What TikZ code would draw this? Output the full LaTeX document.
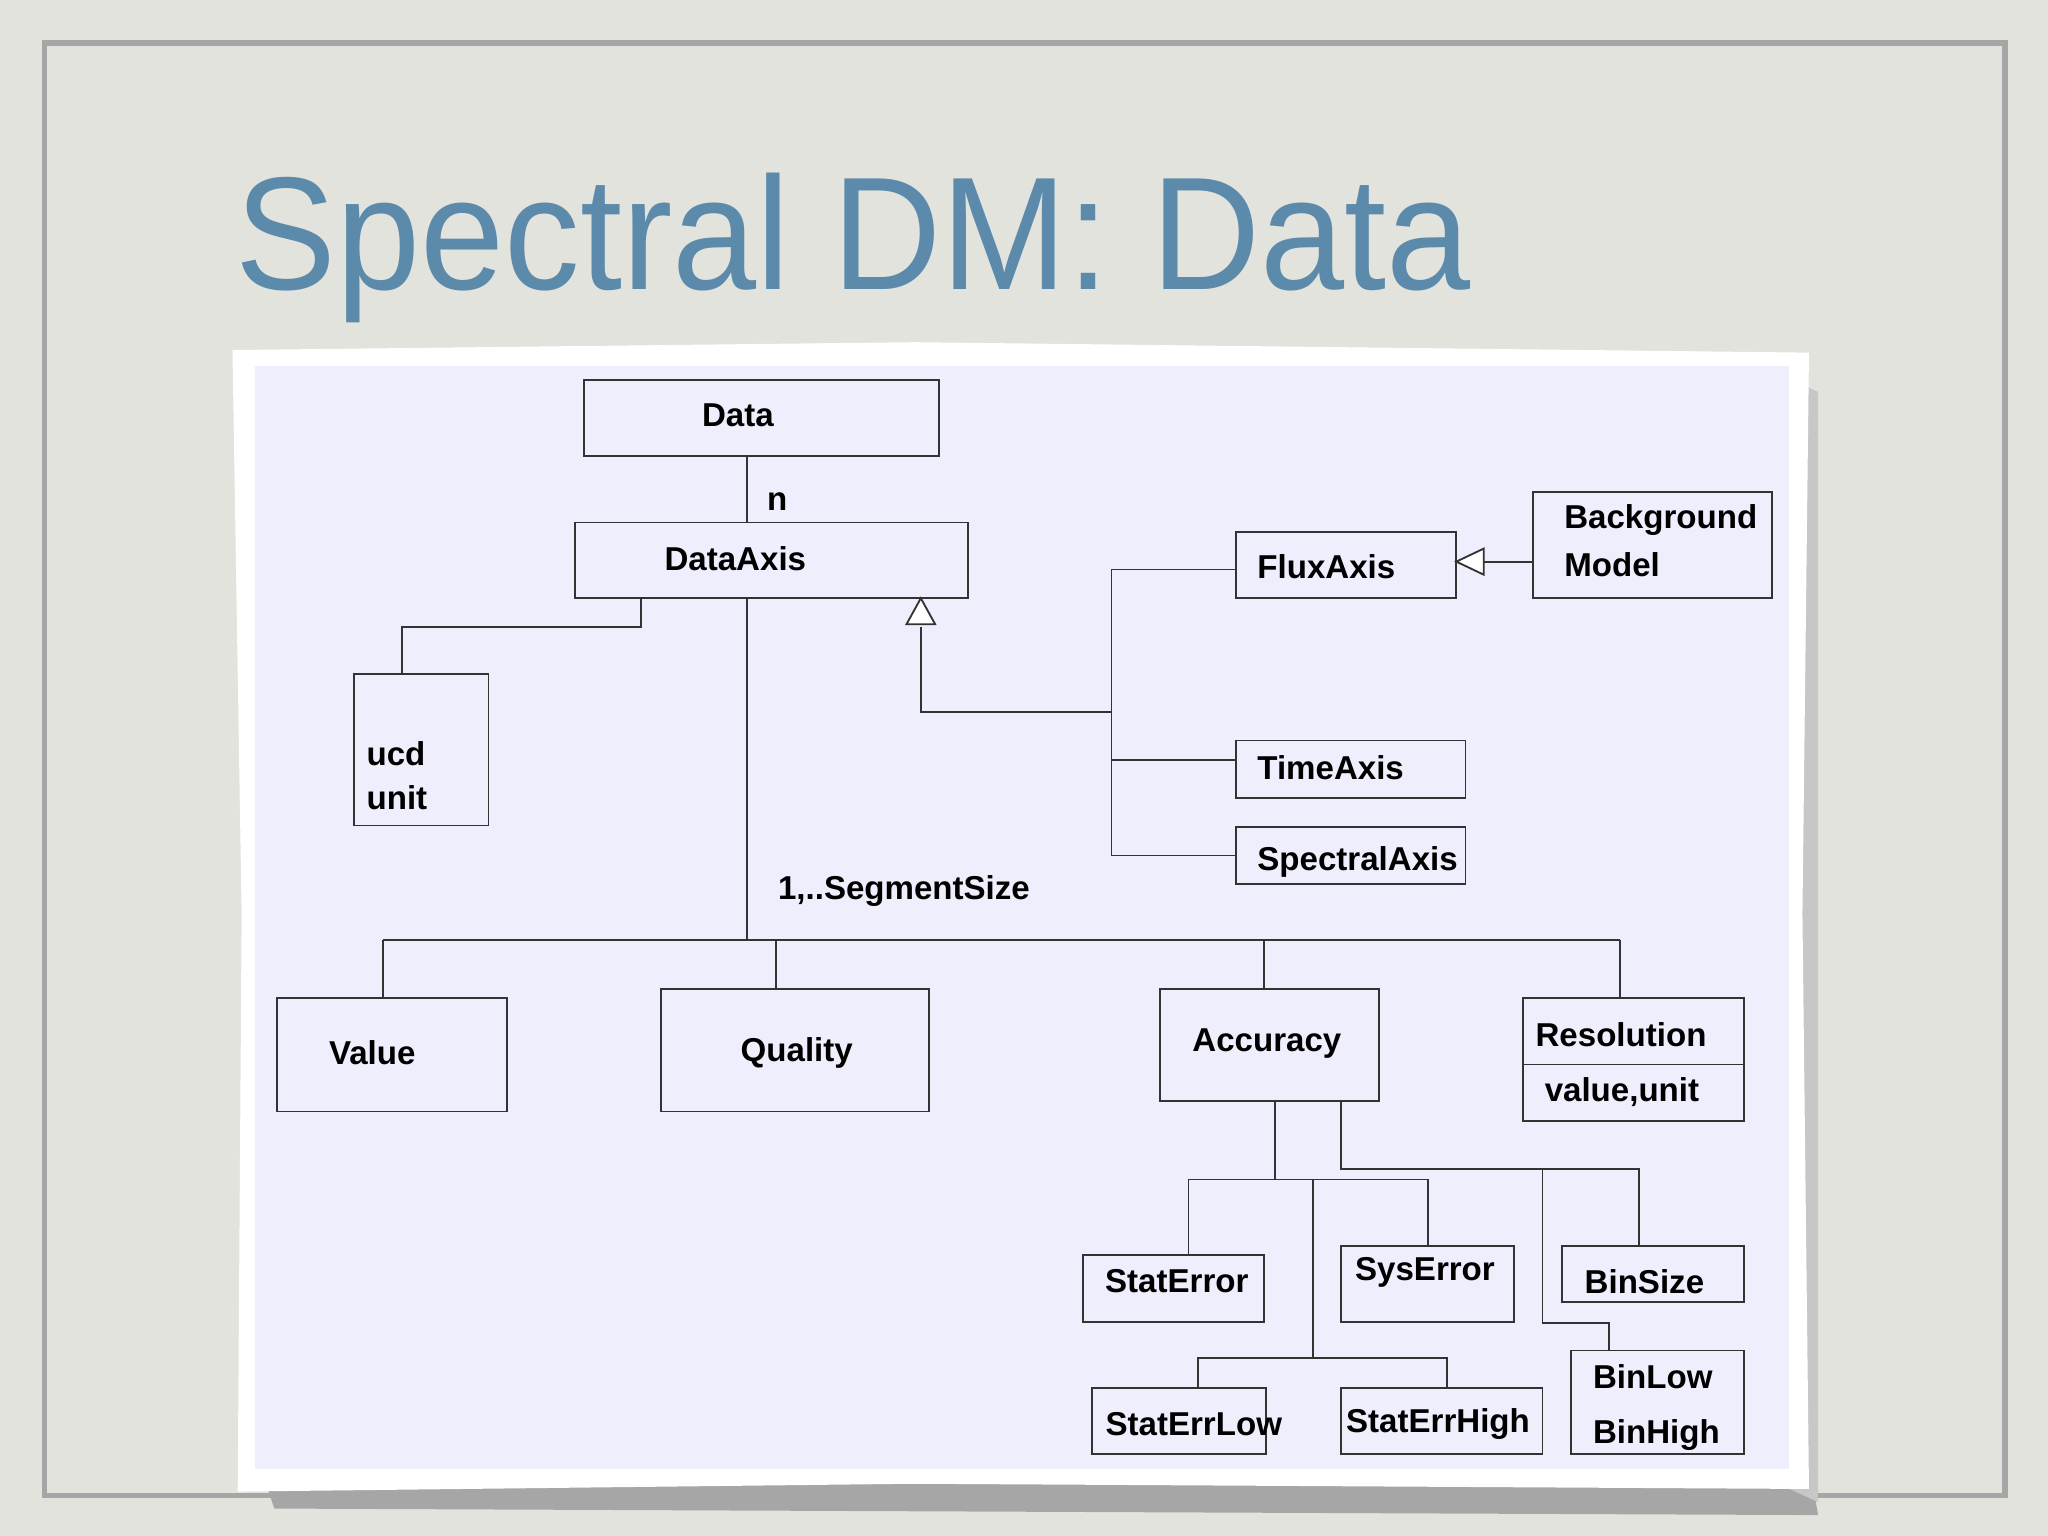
\documentclass[tikz,border=0pt]{standalone}
\usepackage{fontspec}
\setmainfont{Liberation Sans}
\usetikzlibrary{arrows.meta}
\definecolor{bg}{HTML}{E3E3DD}
\definecolor{lav}{HTML}{EEEEFC}
\definecolor{ttl}{HTML}{5B8AAA}
\tikzset{
 box/.style={draw=black!80,line width=0.4pt},
 lbl/.style={font=\bfseries\fontsize{7.2}{8}\selectfont,inner sep=0pt},
 ln/.style={draw=black!80,line width=0.4pt}
}
\newcommand\bx[5]{\pgfmathsetmacro\cx{(#2+#4)/2}\pgfmathsetmacro\cy{(#3+#5)/2}%
 \pgfmathsetmacro\ww{(#4-#2)*0.01}\pgfmathsetmacro\hh{(#5-#3)*0.01}%
 \node[box,inner sep=0pt,minimum width=\ww cm,minimum height=\hh cm] (#1) at (\cx,\cy) {};}
\begin{document}
\begin{tikzpicture}[x=0.01cm,y=-0.01cm]
\fill[bg] (0,0) rectangle (1568,1176);
\useasboundingbox (0,0) rectangle (1568,1176);
\draw[gray!70,line width=1.2pt] (34,33) rectangle (1535,1145);
\node[anchor=base west,text=ttl,inner sep=0pt,font=\fontsize{35}{40}\selectfont,xscale=0.94] (title) at (180,222) {Spectral DM: Data};
\fill[black!35] (200,1125) -- (1385,1120) -- (1392,1160) -- (210,1155) -- cycle;
\fill[black!22] (1370,290) -- (1392,300) -- (1392,1150) -- (1370,1140) -- cycle;
\fill[white] (178,268) -- (700,262) -- (1385,270) -- (1380,700) -- (1385,1140) -- (700,1136) -- (182,1142) -- (185,700) -- cycle;
\fill[lav] (195,280) rectangle (1370,1125);
% boxes
\bx{data}{447}{291}{719}{349}
\bx{dataaxis}{440}{400}{741}{458}
\bx{ucd}{271}{516}{374}{632}
\bx{value}{212}{764}{388}{851}
\bx{quality}{506}{757}{711}{851}
\bx{accuracy}{888}{757}{1056}{843}
\bx{resolution}{1166}{764}{1335}{858}
\bx{flux}{946}{407}{1115}{458}
\bx{bgm}{1174}{377}{1357}{458}
\bx{time}{946}{567}{1122}{611}
\bx{spec}{946}{633}{1122}{677}
\bx{staterr}{829}{961}{968}{1012}
\bx{syserr}{1027}{954}{1159}{1012}
\bx{binsize}{1196}{954}{1335}{997}
\bx{statlow}{836}{1063}{969}{1113}
\bx{stathigh}{1027}{1063}{1181}{1113}
\bx{binlow}{1203}{1034}{1335}{1113}
\draw[ln] (1166,815) -- (1335,815);
% labels
\node[lbl] at (565,318) {Data};
\node[lbl] at (595,384) {n};
\node[lbl] at (563,428) {DataAxis};
\node[lbl,anchor=west] at (280,577) {ucd};
\node[lbl,anchor=west] at (280,611) {unit};
\node[lbl,anchor=west] at (595,682) {1,..SegmentSize};
\node[lbl] at (285,806) {Value};
\node[lbl] at (610,806) {Quality};
\node[lbl] at (970,799) {Accuracy};
\node[lbl,anchor=west] at (1175,792) {Resolution};
\node[lbl,anchor=west] at (1182,836) {value,unit};
\node[lbl,anchor=west] at (962,434) {FluxAxis};
\node[lbl,anchor=west] at (1197,398) {Background};
\node[lbl,anchor=west] at (1197,432) {Model};
\node[lbl,anchor=west] at (962,588) {TimeAxis};
\node[lbl,anchor=west] at (962,660) {SpectralAxis};
\node[lbl] at (901,981) {StatError};
\node[lbl] at (1091,974) {SysError};
\node[lbl] at (1259,981) {BinSize};
\node[lbl] at (914,1090) {StatErrLow};
\node[lbl] at (1101,1090) {StatErrHigh};
\node[lbl,anchor=west] at (1219,1054) {BinLow};
\node[lbl,anchor=west] at (1219,1099) {BinHigh};
% connectors
\draw[ln] (data.south -| 572,0) -- (dataaxis.north -| 572,0);
\draw[ln] (491,458) -- (491,480) -- (308,480) -- (ucd.north -| 308,0);
\draw[ln] (572,458) -- (572,720);
\draw[ln] (293,720) -- (1240,720);
\draw[ln] (293,720) -- (value.north -| 293,0);
\draw[ln] (594,720) -- (quality.north -| 594,0);
\draw[ln] (968,720) -- (accuracy.north -| 968,0);
\draw[ln] (1240,720) -- (resolution.north -| 1240,0);
\draw[ln] (705,480) -- (705,545) -- (851,545);
\draw[ln,fill=white] (705,458) -- (694,478) -- (716,478) -- cycle;
\draw[ln] (851,436) -- (851,655);
\draw[ln] (851,436) -- (flux.west |- 0,436);
\draw[ln] (851,582) -- (time.west |- 0,582);
\draw[ln] (851,655) -- (spec.west |- 0,655);
\draw[ln] (1136,430) -- (bgm.west |- 0,430);
\draw[ln,fill=white] (1115,430) -- (1136,420) -- (1136,440) -- cycle;
\draw[ln] (976,843) -- (976,903);
\draw[ln] (910,961) -- (910,903) -- (1093,903) -- (1093,954);
\draw[ln] (1005,903) -- (1005,1040);
\draw[ln] (917,1063) -- (917,1040) -- (1108,1040) -- (1108,1063);
\draw[ln] (1027,843) -- (1027,895) -- (1255,895) -- (1255,954);
\draw[ln] (1181,895) -- (1181,1013) -- (1232,1013) -- (1232,1034);
\end{tikzpicture}
\end{document}
